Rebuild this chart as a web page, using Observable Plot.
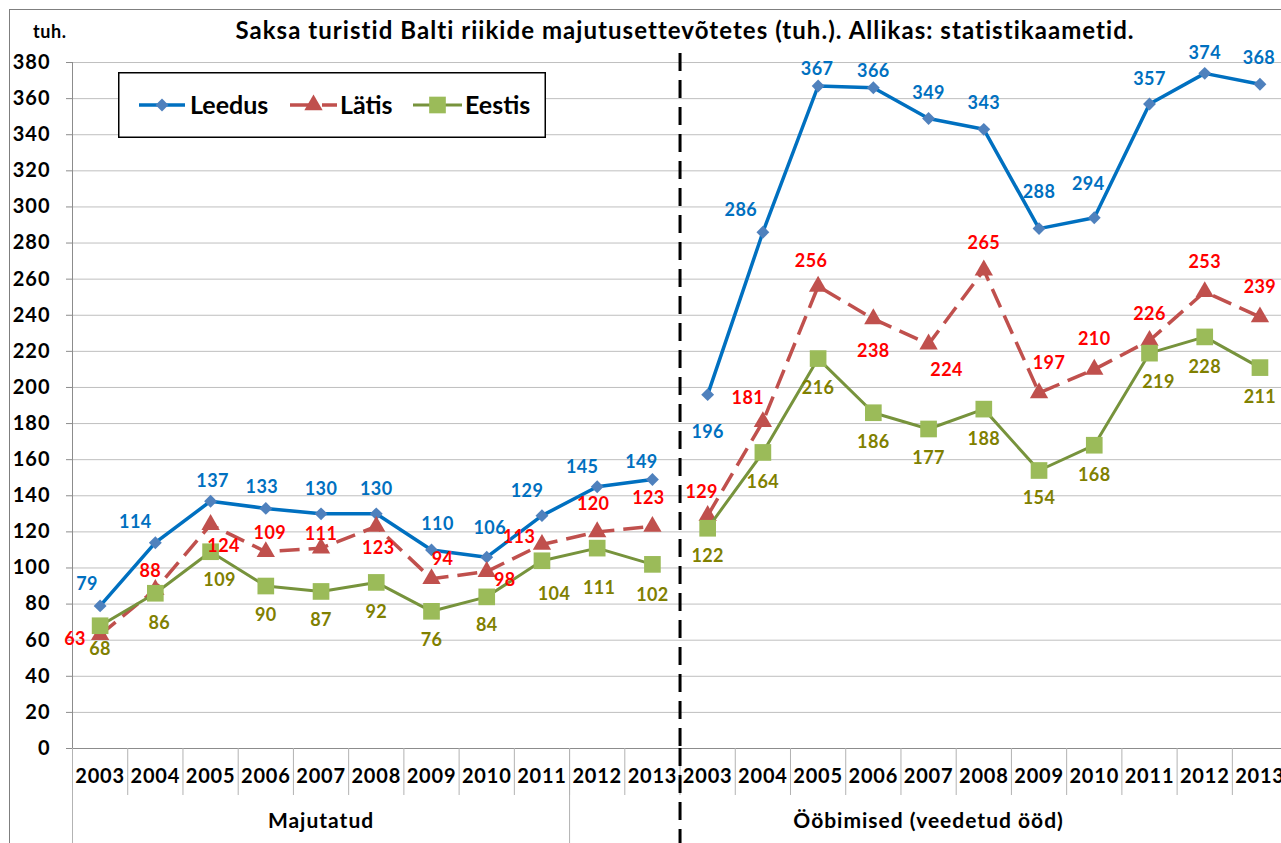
<!DOCTYPE html>
<html>
<head>
<meta charset="utf-8">
<script src="https://cdn.jsdelivr.net/npm/d3@7"></script>
<script src="https://cdn.jsdelivr.net/npm/@observablehq/plot@0.6"></script>
<style>
  body { margin: 0; background: #fff; overflow: hidden; font-family: Lato, "Open Sans", sans-serif; }
  #wrap { position: relative; width: 1281px; height: 843px; overflow: hidden; background: #fff; }
  #head { position: relative; height: 45px; }
  #unit { position: absolute; left: 33px; top: 20px; font-weight: bold; font-size: 18px; letter-spacing: 0.6px; }
  #title { position: absolute; left: 0; width: 1370px; top: 15px; text-align: center; font-weight: bold; font-size: 24px; letter-spacing: 1.05px; white-space: nowrap; }
  #legend { position: absolute; left: 118px; top: 72px; }
  #border { position: absolute; left: 9px; top: 9px; width: 1400px; height: 1000px; border: 1.5px solid #7f7f7f; box-sizing: border-box; pointer-events: none; }
  #chart svg { display: block; }
  #chart g[aria-label="y-axis tick label"] text { letter-spacing: 1px; }
  #chart g[aria-label="x-axis tick label"] text { letter-spacing: 0.8px; }
  #chart g[aria-label="text"] text { letter-spacing: 0.4px; }
  #chart g.grouplabel text { letter-spacing: 1px; }
</style>
</head>
<body>
<div id="wrap">
  <div id="head"><div id="unit">tuh.</div><div id="title"></div></div>
  <div id="chart"></div>
  <div id="legend"></div>
  <div id="border"></div>
</div>
<script>
// ---------- data ----------
const titleText = "Saksa turistid Balti riikide majutusettevõtetes (tuh.). Allikas: statistikaametid.";
const years = ["2003","2004","2005","2006","2007","2008","2009","2010","2011","2012","2013"];
const groupNames = ["Majutatud", "Ööbimised (veedetud ööd)"];
const seriesNames = ["Leedus", "Lätis", "Eestis"];

const leedusMajutatud = [79, 114, 137, 133, 130, 130, 110, 106, 129, 145, 149];
const leedusOobimised = [196, 286, 367, 366, 349, 343, 288, 294, 357, 374, 368];
const latisMajutatud  = [63, 88, 124, 109, 111, 123, 94, 98, 113, 120, 123];
const latisOobimised  = [129, 181, 256, 238, 224, 265, 197, 210, 226, 253, 239];
const eestisMajutatud = [68, 86, 109, 90, 87, 92, 76, 84, 104, 111, 102];
const eestisOobimised = [122, 164, 216, 186, 177, 188, 154, 168, 219, 228, 211];

const yTicks = d3.range(0, 381, 20);

// ---------- label placement (pixel nudges, layout only) ----------
const leedusNudge = [[-13,-22],[-20,-20],[2,-20],[-4,-21],[0,-25],[0,-25],[6,-26],[3,-29],[-15,-24],[-15,-20],[-11,-17],
                     [0,38],[-22,-22],[-1,-17],[0,-17],[0,-25],[0,-26],[0,-36],[-6,-34],[0,-25],[0,-20],[-1,-26]];
const latisNudge  = [[-25,4],[-5,-18],[13,22],[4,-18],[0,-14],[2,22],[11,-20],[18,9],[-23,-7],[-4,-28],[-4,-28],
                     [-6,-23],[-15,-24],[-7,-25],[0,32],[18,26],[0,-27],[10,-30],[0,-30],[0,-26],[0,-30],[0,-30]];
const eestisNudge = [[0,23],[4,30],[9,29],[0,29],[0,29],[0,30],[0,29],[0,28],[12,33],[2,40],[0,31],
                     [0,28],[0,30],[0,30],[0,30],[0,29],[0,30],[0,28],[0,30],[9,29],[0,30],[0,30]];

// ---------- styles ----------
const styles = {
  Leedus: {line: "#0070C0", marker: "#4F81BD", label: "#0070C0", symbol: "diamond2", r: 5.8, dash: null, width: 3.5},
  "Lätis": {line: "#C0504D", marker: "#C0504D", label: "#FF0000", symbol: "triangle", r: 6.8, dash: "20,9", width: 3.5},
  Eestis: {line: "#77933C", marker: "#9BBB59", label: "#808000", symbol: "square", r: 9.4, dash: null, width: 3}
};

// ---------- build table ----------
const seriesValues = {
  Leedus: [leedusMajutatud, leedusOobimised],
  "Lätis": [latisMajutatud, latisOobimised],
  Eestis: [eestisMajutatud, eestisOobimised]
};
const seriesNudges = {Leedus: leedusNudge, "Lätis": latisNudge, Eestis: eestisNudge};

const rows = [];
for (const s of seriesNames) {
  seriesValues[s].forEach((vals, g) => {
    vals.forEach((v, i) => {
      const idx = g * years.length + i;
      const [ndx, ndy] = seriesNudges[s][idx];
      rows.push({series: s, group: g, year: years[i], idx, value: v, ndx, ndy});
    });
  });
}

const nCat = years.length * groupNames.length; // 22

// ---------- marks ----------
const marks = [];
marks.push(Plot.gridY(yTicks, {stroke: "#bfbfbf", strokeOpacity: 1}));
marks.push(Plot.axisY(yTicks, {tickSize: 6, tickPadding: 16, fontSize: 20, fontWeight: "bold", stroke: "#8c8c8c", fill: "black", label: null}));
marks.push(Plot.ruleX([-0.5], {y1: 0, y2: yTicks[yTicks.length - 1], stroke: "#8c8c8c"}));
marks.push(Plot.ruleY([0], {stroke: "#8c8c8c"}));
// category separators
marks.push(Plot.axisX(d3.range(-0.5, nCat, 1), {tickSize: 47, tickFormat: () => "", stroke: "#b3b3b3", label: null}));
// group separators
marks.push(Plot.axisX([-0.5, 8.5], {tickSize: 95, tickFormat: () => "", stroke: "#b3b3b3", label: null}));
// year labels
marks.push(Plot.axisX(d3.range(nCat), {tickSize: 0, tickPadding: 20, tickFormat: i => years[i % years.length], fontSize: 20, fontWeight: "bold", fill: "black", label: null}));
// group labels
marks.push(Plot.text(groupNames, {x: (d, g) => g * years.length + 4, frameAnchor: "bottom", dy: 79, text: d => d, fontSize: 21, fontWeight: "bold", fill: "black", className: "grouplabel"}));
// dashed divider
marks.push(Plot.ruleX([years.length - 0.5], {stroke: "black", strokeWidth: 3, strokeDasharray: "18,9"}));
marks.push(Plot.axisX([years.length - 0.5], {tickSize: 95, tickFormat: () => "", stroke: "black", strokeWidth: 3, strokeDasharray: "18,9", label: null}));

for (const s of seriesNames) {
  const st = styles[s];
  const data = rows.filter(d => d.series === s);
  marks.push(Plot.line(data, {x: "idx", y: "value", z: "group", stroke: st.line, strokeWidth: st.width,
    strokeDasharray: st.dash, strokeLinejoin: "round", strokeLinecap: st.dash ? "butt" : "round"}));
  marks.push(Plot.dot(data, {x: "idx", y: "value", symbol: st.symbol, r: st.r, fill: st.marker, stroke: "none"}));
}
for (const s of seriesNames) {
  const st = styles[s];
  const data = rows.filter(d => d.series === s);
  const byNudge = d3.group(data, d => d.ndx + "," + d.ndy);
  for (const [, arr] of byNudge) {
    marks.push(Plot.text(arr, {x: "idx", y: "value", text: d => String(d.value), dx: arr[0].ndx, dy: arr[0].ndy,
      fill: st.label, fontSize: 18, fontWeight: "bold"}));
  }
}

const chart = Plot.plot({
  width: 1281,
  height: 798,
  marginTop: 8,
  marginBottom: 95,
  marginLeft: 72,
  marginRight: 0,
  style: {fontFamily: "Lato, 'Open Sans', sans-serif", background: "transparent", overflow: "visible"},
  x: {type: "linear", domain: [-0.5, 21.39], axis: null},
  y: {type: "linear", domain: [0, 385], axis: null},
  marks
});
document.getElementById("chart").appendChild(chart);
document.getElementById("title").textContent = titleText;

// ---------- legend ----------
const lg = d3.select("#legend").append("svg").attr("width", 428).attr("height", 66);
lg.append("rect").attr("x", 0.75).attr("y", 0.75).attr("width", 426.5).attr("height", 64.5).attr("fill", "white").attr("stroke", "black").attr("stroke-width", 1.5);
const legendItems = [
  {name: seriesNames[0], x0: 21, x1: 67, text: 72},
  {name: seriesNames[1], x0: 172, x1: 219, text: 222},
  {name: seriesNames[2], x0: 295, x1: 344, text: 347}
];
const symMap = {diamond2: d3.symbolDiamond2, triangle: d3.symbolTriangle, square: d3.symbolSquare};
for (const it of legendItems) {
  const st = styles[it.name];
  lg.append("line").attr("x1", it.x0).attr("x2", it.x1).attr("y1", 33).attr("y2", 33)
    .attr("stroke", st.line).attr("stroke-width", st.width).attr("stroke-dasharray", st.dash ? "24,8" : null);
  lg.append("path").attr("d", d3.symbol(symMap[st.symbol], Math.PI * st.r * st.r)())
    .attr("transform", `translate(${(it.x0 + it.x1) / 2},33)`).attr("fill", st.marker);
  lg.append("text").attr("x", it.text).attr("y", 33).attr("dy", "0.35em").attr("font-size", 25)
    .attr("font-weight", "bold").attr("font-family", "Lato, sans-serif").text(it.name);
}
</script>
</body>
</html>
